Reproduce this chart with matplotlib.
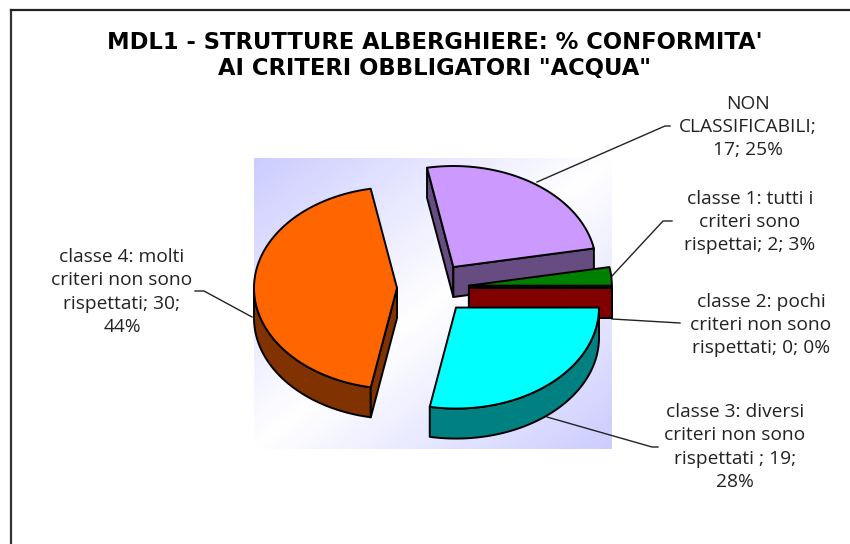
import numpy as np
import matplotlib
matplotlib.use('Agg')
import matplotlib.pyplot as plt
from matplotlib.colors import LinearSegmentedColormap

# Data
categories = ['NON\nCLASSIFICABILI;\n17; 25%',
              'classe 1: tutti i\ncriteri sono\nrispettai; 2; 3%',
              'classe 2: pochi\ncriteri non sono\nrispettati; 0; 0%',
              'classe 3: diversi\ncriteri non sono\nrispettati ; 19;\n28%',
              'classe 4: molti\ncriteri non sono\nrispettati; 30;\n44%']
values = [17, 2, 0, 19, 30]
top_colors = ['#CC99FF', '#008000', '#800000', '#00FFFF', '#FF6600']
side_colors = ['#664C80', '#004000', '#800000', '#008080', '#803300']
label_pos = [(748, 127), (750, 222), (761, 325), (735, 447), (122, 292)]
leaders = [[(537, 182), (665, 126), (670, 126)],
           [(612, 276), (663, 221), (672, 221)],
           [(612, 319), (680, 323)],
           [(547, 417), (652, 447), (658, 447)],
           [(252, 317), (204, 291), (195, 291)]]
title = "MDL1 - STRUTTURE ALBERGHIERE: % CONFORMITA'\nAI CRITERI OBBLIGATORI \"ACQUA\""

# Pie geometry (pixels)
cx, cy = 433, 288
rx, ry = 143, 101
depth = 30
explode = 36
first_angle = -100.6

fig = plt.figure(figsize=(8.5, 5.44), dpi=100)
ax = fig.add_axes([0, 0, 1, 1])
ax.set_xlim(0, 850)
ax.set_ylim(544, 0)
ax.axis('off')

# Chart frame
ax.plot([11, 11], [544, 10], color='#333333', lw=1.6)
ax.plot([11, 850], [10, 10], color='#222222', lw=1.6)

# Plot area gradient
u, v = np.meshgrid(np.linspace(0, 1, 200), np.linspace(0, 1, 200))
grad = np.abs(u + v - 1)
cmap = LinearSegmentedColormap.from_list('bg', ['#FFFFFF', '#CCCCFF'])
ax.imshow(grad, extent=(254, 612, 449, 158), cmap=cmap, vmin=0, vmax=1, zorder=0, aspect='auto')
ax.set_xlim(0, 850)
ax.set_ylim(544, 0)


def rim(x0, y0, angles):
    t = np.radians(angles)
    return x0 + rx * np.cos(t), y0 + ry * np.sin(t)


def poly(xs, ys, color, z):
    ax.fill(xs, ys, facecolor=color, edgecolor='black', lw=1.4, joinstyle='round', zorder=z)


# Slices
angle = first_angle
slices = []
for val, top, side in zip(values, top_colors, side_colors):
    sweep = val / sum(values) * 360
    mid = np.radians(angle + sweep / 2)
    x0 = cx + explode * np.cos(mid)
    y0 = cy + explode * ry / rx * np.sin(mid)
    slices.append((angle, angle + sweep, x0, y0, top, side))
    angle += sweep

z = 2
for a0, a1, x0, y0, top, side in slices:
    arc = np.linspace(a0, a1, 120)
    xs, ys = rim(x0, y0, arc)
    # outer wall, only where it faces the viewer
    front = arc[(arc % 360 > 0) & (arc % 360 < 180)]
    if len(front) > 1:
        wx, wy = rim(x0, y0, front)
        poly(np.r_[wx, wx[::-1]], np.r_[wy, wy[::-1] + depth], side, z)
    # cut walls
    for a in (a0, a1):
        ex, ey = rim(x0, y0, np.array([a]))
        # wall faces the viewer if the outward normal points down the screen
        normal = a - 90 if a == a0 else a + 90
        if np.sin(np.radians(normal)) > 0 or a0 == a1:
            poly([x0, ex[0], ex[0], x0], [y0, ey[0], ey[0] + depth, y0 + depth], side, z)
    poly(np.r_[x0, xs], np.r_[y0, ys], top, z + 1)
    z += 2

# Labels
for lab, (lx, ly), pts in zip(categories, label_pos, leaders):
    ax.text(lx, ly, lab, ha='center', va='center', fontsize=13.8, color='#222222',
            family='Open Sans', linespacing=1.37, zorder=20)
    ax.plot([p[0] for p in pts], [p[1] for p in pts], color='#222222', lw=1, zorder=1)

ax.text(435, 55.5, title, ha='center', va='center', fontsize=16.3, fontweight='bold', color='black',
        family='DejaVu Sans', linespacing=1.22, zorder=20)

fig.savefig('out.png', dpi=100)
